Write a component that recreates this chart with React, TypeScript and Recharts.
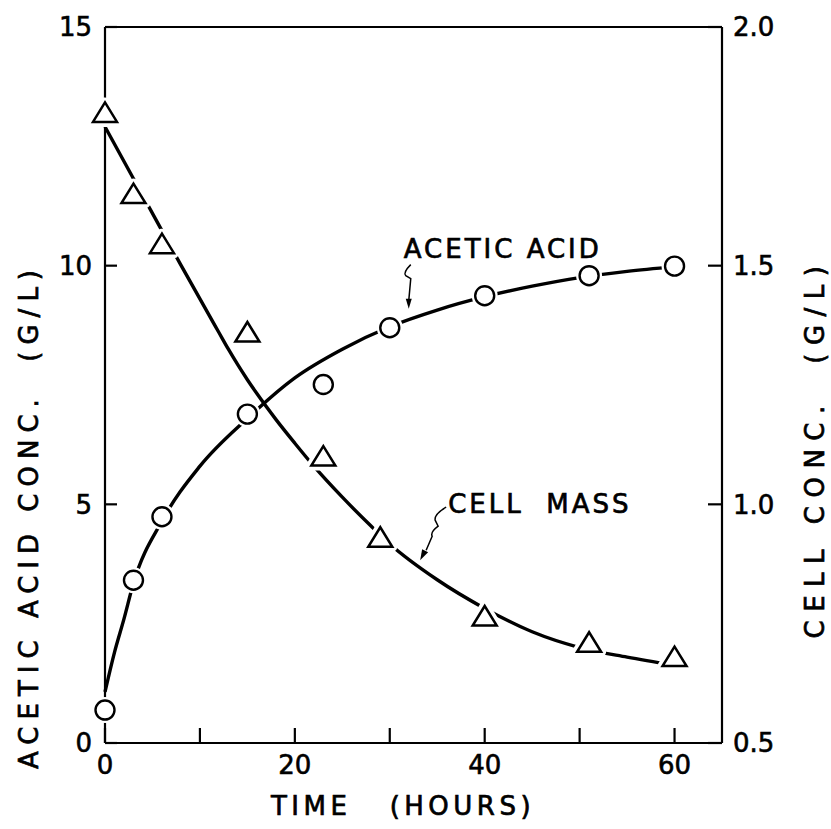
import React from 'react';
import { ComposedChart, Line, Scatter, XAxis, YAxis, ReferenceLine, ReferenceDot } from 'recharts';

// Measured points: acetic acid (circles, left axis, g/L)
const acidTime = [0, 3, 6, 15, 23, 30, 40, 51, 60];
const acidConc = [0.69, 3.41, 4.74, 6.89, 7.51, 8.7, 9.37, 9.79, 9.99];
// Measured points: cell mass (triangles, right axis, g/L)
const cellTime = [0, 3, 6, 15, 23, 29, 40, 51, 60];
const cellConc = [1.82, 1.65, 1.545, 1.36, 1.1, 0.93, 0.765, 0.71, 0.68];

// Hand-drawn fitted curves
const acidFitTime = [0, 1, 2, 3, 6, 10, 15, 20, 25, 30, 35, 40, 45, 50, 55, 60];
const acidFitConc = [1.07, 1.9, 2.6, 3.35, 4.65, 5.8, 6.8, 7.65, 8.25, 8.72, 9.07, 9.35, 9.57, 9.75, 9.88, 9.98];
const cellFitTime = [0, 4, 8, 12, 13, 14, 15, 16, 18, 20, 22, 25, 28, 30, 35, 40, 45, 50, 55, 60];
const cellFitConc = [1.791, 1.646, 1.501, 1.36, 1.325, 1.292, 1.261, 1.232, 1.178, 1.128, 1.08, 1.015, 0.955, 0.917, 0.842, 0.782, 0.733, 0.7, 0.68, 0.663];

const xTicks = [0, 10, 20, 30, 40, 50, 60];
const xTickLabels = ['0', '', '20', '', '40', '', '60'];
const leftTicks = [0, 5, 10, 15];
const rightTicks = [0.5, 1.0, 1.5, 2.0];

const acidPoints = acidTime.map((t, i) => ({ t, v: acidConc[i] }));
const cellPoints = cellTime.map((t, i) => ({ t, v: cellConc[i] }));
const acidFit = acidFitTime.map((t, i) => ({ t, v: acidFitConc[i] }));
const cellFit = cellFitTime.map((t, i) => ({ t, v: cellFitConc[i] }));

const FONT = 'DejaVu Sans';
const INK = '#000';
const TXT_STROKE = 0.7;

const CircleMark = (p: any) => {
  if (p.cx == null || p.cy == null) return null;
  return (
    <g>
      <circle cx={p.cx} cy={p.cy} r={13} fill="#fff" />
      <circle cx={p.cx} cy={p.cy} r={9.5} fill="#fff" stroke={INK} strokeWidth={2.4} />
    </g>
  );
};

const TriMark = (p: any) => {
  if (p.cx == null || p.cy == null) return null;
  const { cx, cy } = p;
  const d = `M${cx},${cy - 10.5} L${cx + 12},${cy + 9} L${cx - 12},${cy + 9} Z`;
  return (
    <g>
      <path d={d} fill="#fff" stroke="#fff" strokeWidth={10} strokeLinejoin="round" />
      <path d={d} fill="#fff" stroke={INK} strokeWidth={2.5} strokeLinejoin="miter" />
    </g>
  );
};

const noteText = { fontFamily: FONT, fontSize: 26, fill: INK, stroke: INK, strokeWidth: TXT_STROKE };

const AcidNote = (p: any) => {
  const { cx, cy } = p;
  if (cx == null) return null;
  return (
    <g>
      <text x={cx - 5} y={cy - 51} letterSpacing={3} {...noteText}>ACETIC ACID</text>
      <path d={`M${cx + 2},${cy - 44} Q${cx - 6},${cy - 36} ${cx - 3},${cy - 33} L${cx + 2},${cy - 30} L${cx},${cy - 8}`} fill="none" stroke={INK} strokeWidth={1.5} />
      <path d={`M${cx},${cy} L${cx - 3},${cy - 10} L${cx + 3},${cy - 10} Z`} fill={INK} />
    </g>
  );
};

const CellNote = (p: any) => {
  const { cx, cy } = p;
  if (cx == null) return null;
  return (
    <g>
      <text x={cx + 28} y={cy - 47} letterSpacing={3} style={{ whiteSpace: 'pre' }} {...noteText}>{'CELL  MASS'}</text>
      <path d={`M${cx + 26},${cy - 53} Q${cx + 14},${cy - 46} ${cx + 15},${cy - 40} L${cx + 18},${cy - 34} Q${cx + 10},${cy - 28} ${cx + 12},${cy - 24} L${cx + 6},${cy - 10}`} fill="none" stroke={INK} strokeWidth={1.5} />
      <path d={`M${cx},${cy} L${cx + 2},${cy - 11} L${cx + 8},${cy - 8} Z`} fill={INK} />
    </g>
  );
};

const titleText = { fontFamily: FONT, fill: INK, stroke: INK, strokeWidth: TXT_STROKE };

const LeftTitle = () => (
  <text x={29} y={516} transform="rotate(-90 29 516)" textAnchor="middle" dominantBaseline="central"
    fontSize={26} letterSpacing={7} style={{ whiteSpace: 'pre' }} {...titleText}>
    {'ACETIC ACID CONC.  (G/L)'}
  </text>
);

const RightTitle = () => (
  <text x={815} y={448} transform="rotate(-90 815 448)" textAnchor="middle" dominantBaseline="central"
    fontSize={26} letterSpacing={8.5} style={{ whiteSpace: 'pre' }} {...titleText}>
    {'CELL CONC.  (G/L)'}
  </text>
);

const BottomTitle = () => (
  <text x={403} y={806} textAnchor="middle" dominantBaseline="central"
    fontSize={26} letterSpacing={4.5} style={{ whiteSpace: 'pre' }} {...titleText}>
    {'TIME   (HOURS)'}
  </text>
);

const tickStyle = { fill: INK, fontSize: 26, fontFamily: FONT, stroke: INK, strokeWidth: 0.6 };
const axisStroke = { stroke: INK, strokeWidth: 2.2 };

export default function App() {
  return (
    <div style={{ position: 'absolute', left: 0, top: 0, width: 831, height: 829, background: '#fff' }}>
      <ComposedChart width={831} height={829} margin={{ top: 27, right: 29, bottom: 26, left: 35 }}>
        <XAxis
          type="number"
          dataKey="t"
          domain={[0, 65]}
          ticks={xTicks}
          tickFormatter={(v: number) => xTickLabels[xTicks.indexOf(v)] ?? ''}
          height={60}
          axisLine={axisStroke}
          tickLine={axisStroke}
          tickSize={-15}
          tickMargin={28}
          tick={tickStyle}
          interval={0}
          label={{ content: () => <BottomTitle /> }}
        />
        <YAxis
          yAxisId="left"
          orientation="left"
          type="number"
          domain={[0, 15]}
          ticks={leftTicks}
          width={70}
          axisLine={axisStroke}
          tickLine={axisStroke}
          tickSize={-12}
          tickMargin={25}
          tick={tickStyle}
          interval={0}
          label={{ content: () => <LeftTitle /> }}
        />
        <YAxis
          yAxisId="right"
          orientation="right"
          type="number"
          domain={[0.5, 2.0]}
          ticks={rightTicks}
          tickFormatter={(v: number) => v.toFixed(1)}
          width={80}
          axisLine={axisStroke}
          tickLine={axisStroke}
          tickSize={-14}
          tickMargin={25}
          tick={tickStyle}
          interval={0}
          label={{ content: () => <RightTitle /> }}
        />
        <ReferenceLine yAxisId="left" y={15} stroke={INK} strokeWidth={2.2} />
        <Line yAxisId="left" data={acidFit} dataKey="v" type="monotone" stroke={INK} strokeWidth={3.4} dot={false} activeDot={false} isAnimationActive={false} />
        <Line yAxisId="right" data={cellFit} dataKey="v" type="monotone" stroke={INK} strokeWidth={3.4} dot={false} activeDot={false} isAnimationActive={false} />
        <Scatter yAxisId="left" data={acidPoints} dataKey="v" shape={CircleMark} isAnimationActive={false} />
        <Scatter yAxisId="right" data={cellPoints} dataKey="v" shape={TriMark} isAnimationActive={false} />
        <ReferenceDot yAxisId="left" x={32} y={9.1} r={0} shape={AcidNote} />
        <ReferenceDot yAxisId="left" x={33.2} y={3.83} r={0} shape={CellNote} />
      </ComposedChart>
    </div>
  );
}
